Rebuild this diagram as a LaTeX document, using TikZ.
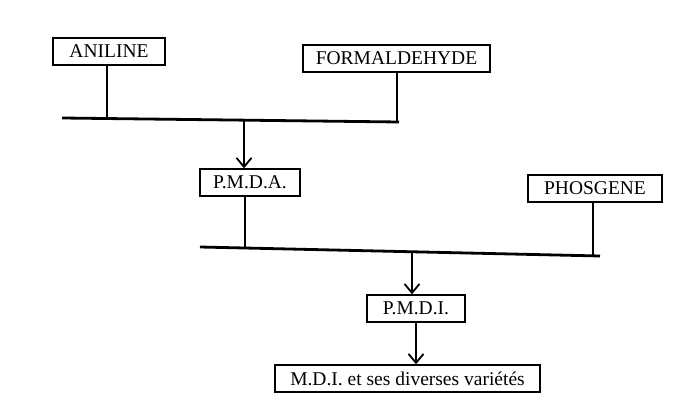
\documentclass[tikz,border=0pt]{standalone}
\usepackage{fontspec}
\setmainfont{Liberation Serif}
\usetikzlibrary{arrows.meta}

\begin{document}
\begin{tikzpicture}[
                x=1pt, y=-1pt,
                box/.style={draw=black, line width=1.4pt, inner sep=0pt, minimum height=27pt,
                    font=\fontsize{19.5}{19.5}\selectfont},
                link/.style={line width=2pt},
                bar/.style={line width=2.8pt},
                arrow/.style={line width=1.8pt, -{Straight Barb[length=9pt, width=15pt]}},
            ]
                \useasboundingbox (0, 0) rectangle (683, 403);
                % products
                \node[box, minimum width=112pt] (aniline) at (109, 51.5) {ANILINE};
                \node[box, minimum width=187pt] (formaldehyde) at (396.5, 58.5) {FORMALDEHYDE};
                \node[box, minimum width=100pt] (pmda) at (250, 182.5) {P.M.D.A.};
                \node[box, minimum width=134pt] (phosgene) at (595, 188.5) {PHOSGENE};
                \node[box, minimum width=98pt] (pmdi) at (416, 308.5) {P.M.D.I.};
                \node[box, minimum width=265pt] (mdi) at (407.5, 378.5) {M.D.I. et ses diverses variétés};
                % first reaction
                \coordinate (barA west) at (62, 118);
                \coordinate (barA east) at (399, 122);
                \coordinate (jAniline) at (107, 119);
                \coordinate (jFormal) at (397, 122);
                \coordinate (jPmda) at (244, 120);
                \draw[bar] (barA west) -- (barA east);
                \draw[link] (aniline.south -| jAniline) -- (jAniline);
                \draw[link] (formaldehyde.south -| jFormal) -- (jFormal);
                \draw[arrow] (jPmda) -- (jPmda |- pmda.north);
                % second reaction
                \coordinate (barB west) at (200, 247);
                \coordinate (barB east) at (600, 256);
                \coordinate (jPmdaB) at (245, 248);
                \coordinate (jPhos) at (593, 255);
                \coordinate (jPmdi) at (412, 251);
                \draw[bar] (barB west) -- (barB east);
                \draw[link] (pmda.south -| jPmdaB) -- (jPmdaB);
                \draw[link] (phosgene.south -| jPhos) -- (jPhos);
                \draw[arrow] (jPmdi) -- (jPmdi |- pmdi.north);
                % final product
                \draw[arrow] (pmdi.south) -- (pmdi.south |- mdi.north);
            \end{tikzpicture}
\end{document}
